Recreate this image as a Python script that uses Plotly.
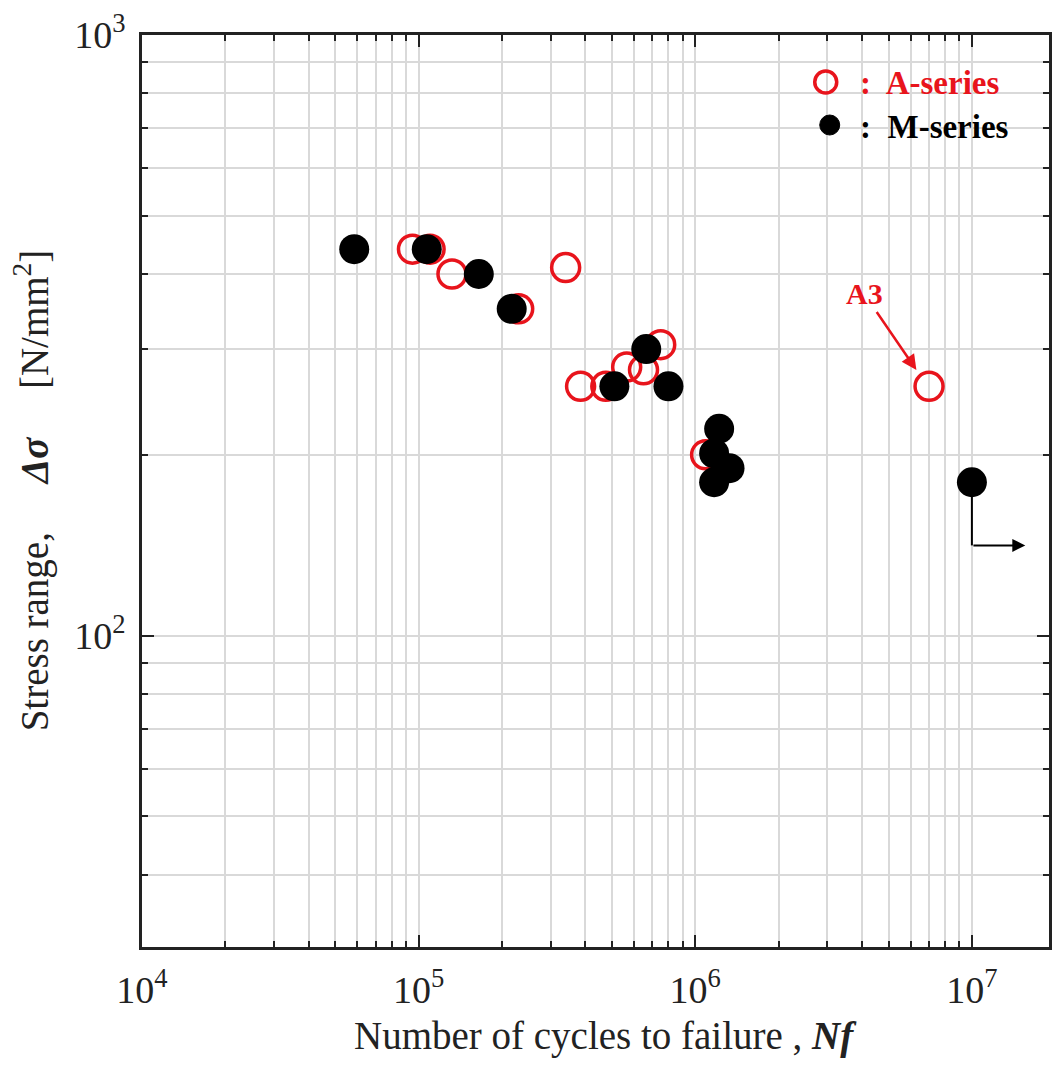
import math
import plotly.graph_objects as go

# Fatigue test results: cycles to failure vs. stress range
a_cycles = [9.5e4, 1.10e5, 1.32e5, 2.30e5, 3.40e5, 3.85e5, 4.75e5, 5.65e5, 6.50e5, 7.50e5, 1.09e6, 7.0e6]
a_stress = [440, 440, 400, 350, 410, 260, 260, 280, 277, 305, 200, 260]

m_cycles = [5.85e4, 1.07e5, 1.65e5, 2.17e5, 5.10e5, 6.65e5, 8.0e5, 1.22e6, 1.17e6, 1.33e6, 1.17e6, 1.0e7]
m_stress = [440, 440, 400, 350, 260, 300, 260, 221, 201, 190, 180, 180]

x_ticks = [1e4, 1e5, 1e6, 1e7]
y_ticks = [1e2, 1e3]
x_ticktext = ["10<sup>%d</sup>" % round(math.log10(v)) for v in x_ticks]
y_ticktext = ["10<sup>%d</sup>" % round(math.log10(v)) for v in y_ticks]

RED = "#e8141c"
FONT = "Liberation Serif"
GRID = "#d9d9d9"
INK = "#222222"

W, H = 1053, 1079
ML, MR, MT, MB = 142, 1, 35, 132
PW, PH = W - ML - MR, H - MT - MB


def px_x(p):
    return (p - ML) / PW


def px_y(p):
    return (H - MB - p) / PH


fig = go.Figure()

fig.add_trace(go.Scatter(
    x=a_cycles, y=a_stress, mode="markers", name="A-series",
    marker=dict(symbol="circle-open", size=28, color=RED, line=dict(width=3.5, color=RED)),
    showlegend=False,
))
fig.add_trace(go.Scatter(
    x=m_cycles, y=m_stress, mode="markers", name="M-series",
    marker=dict(symbol="circle", size=30, color="black"),
    showlegend=False,
))

# Run-out indicator on the last M-series specimen
rx, ry = m_cycles[-1], m_stress[-1]
corner_y = ry * 0.785
fig.add_trace(go.Scatter(
    x=[rx, rx], y=[ry, corner_y], mode="lines",
    line=dict(color="black", width=2), showlegend=False, hoverinfo="skip",
))
fig.add_annotation(
    x=math.log10(rx * 1.56), y=math.log10(corner_y),
    ax=math.log10(rx), ay=math.log10(corner_y),
    xref="x", yref="y", axref="x", ayref="y",
    text="", showarrow=True, arrowhead=2, arrowsize=1.3, arrowwidth=2, arrowcolor="black",
)

# A3 label
a3x, a3y = a_cycles[-1], a_stress[-1]
fig.add_annotation(
    x=math.log10(a3x * 0.9), y=math.log10(a3y * 1.065),
    ax=-52, ay=-76, xref="x", yref="y",
    text="<b>A3</b>", font=dict(family=FONT, size=30, color=RED),
    showarrow=True, arrowhead=2, arrowsize=1.2, arrowwidth=2.5, arrowcolor=RED,
)

# Legend
fig.add_shape(type="circle", xref="paper", yref="paper", xsizemode="pixel", ysizemode="pixel",
              xanchor=px_x(828), yanchor=px_y(82), x0=-11, x1=11, y0=-11, y1=11,
              line=dict(color=RED, width=3.5), fillcolor="rgba(0,0,0,0)")
fig.add_shape(type="circle", xref="paper", yref="paper", xsizemode="pixel", ysizemode="pixel",
              xanchor=px_x(832), yanchor=px_y(125), x0=-10, x1=10, y0=-10, y1=10,
              line=dict(color="black", width=1), fillcolor="black")
fig.add_annotation(x=px_x(860), y=px_y(83), xref="paper", yref="paper", xanchor="left", yanchor="middle",
                   text="<b>:  A-series</b>", showarrow=False,
                   font=dict(family=FONT, size=33, color=RED))
fig.add_annotation(x=px_x(860), y=px_y(127), xref="paper", yref="paper", xanchor="left", yanchor="middle",
                   text="<b>:  M-series</b>", showarrow=False,
                   font=dict(family=FONT, size=33, color="black"))

# Axis titles
fig.add_annotation(x=px_x(607), y=px_y(1036), xref="paper", yref="paper",
                   xanchor="center", yanchor="middle",
                   text="Number of cycles to failure , <b><i>Nf</i></b>", showarrow=False,
                   font=dict(family=FONT, size=39, color=INK))
gap = "\u00a0" * 5
fig.add_annotation(x=px_x(31), y=px_y(490), xref="paper", yref="paper", textangle=-90,
                   xanchor="center", yanchor="middle",
                   text="Stress range," + gap + "<b><i>\u0394\u03c3</i></b>" + gap + "[N/mm<sup>2</sup>]",
                   showarrow=False, font=dict(family=FONT, size=39, color=INK))

axis_common = dict(
    type="log", showline=True, linecolor=INK, linewidth=2.5, mirror="allticks",
    ticks="inside", ticklen=12, tickwidth=2, tickcolor=INK,
    showgrid=True, gridcolor=GRID, gridwidth=1.5,
    tickfont=dict(family=FONT, size=38, color=INK),
    minor=dict(ticks="inside", ticklen=6, tickwidth=1.5, tickcolor=INK,
               showgrid=True, gridcolor=GRID, gridwidth=1.5, dtick="D1"),
    zeroline=False,
)

fig.update_layout(
    width=W, height=H,
    margin=dict(l=ML, r=MR, t=MT, b=MB),
    plot_bgcolor="white", paper_bgcolor="white",
    xaxis=dict(range=[4, math.log10(1.9e7)], tickvals=x_ticks, ticktext=x_ticktext,
               ticklabelstandoff=8, **axis_common),
    yaxis=dict(range=[math.log10(30.3), 3], tickvals=y_ticks, ticktext=y_ticktext,
               ticklabelstandoff=6, **axis_common),
)

fig.write_html("out.html")
